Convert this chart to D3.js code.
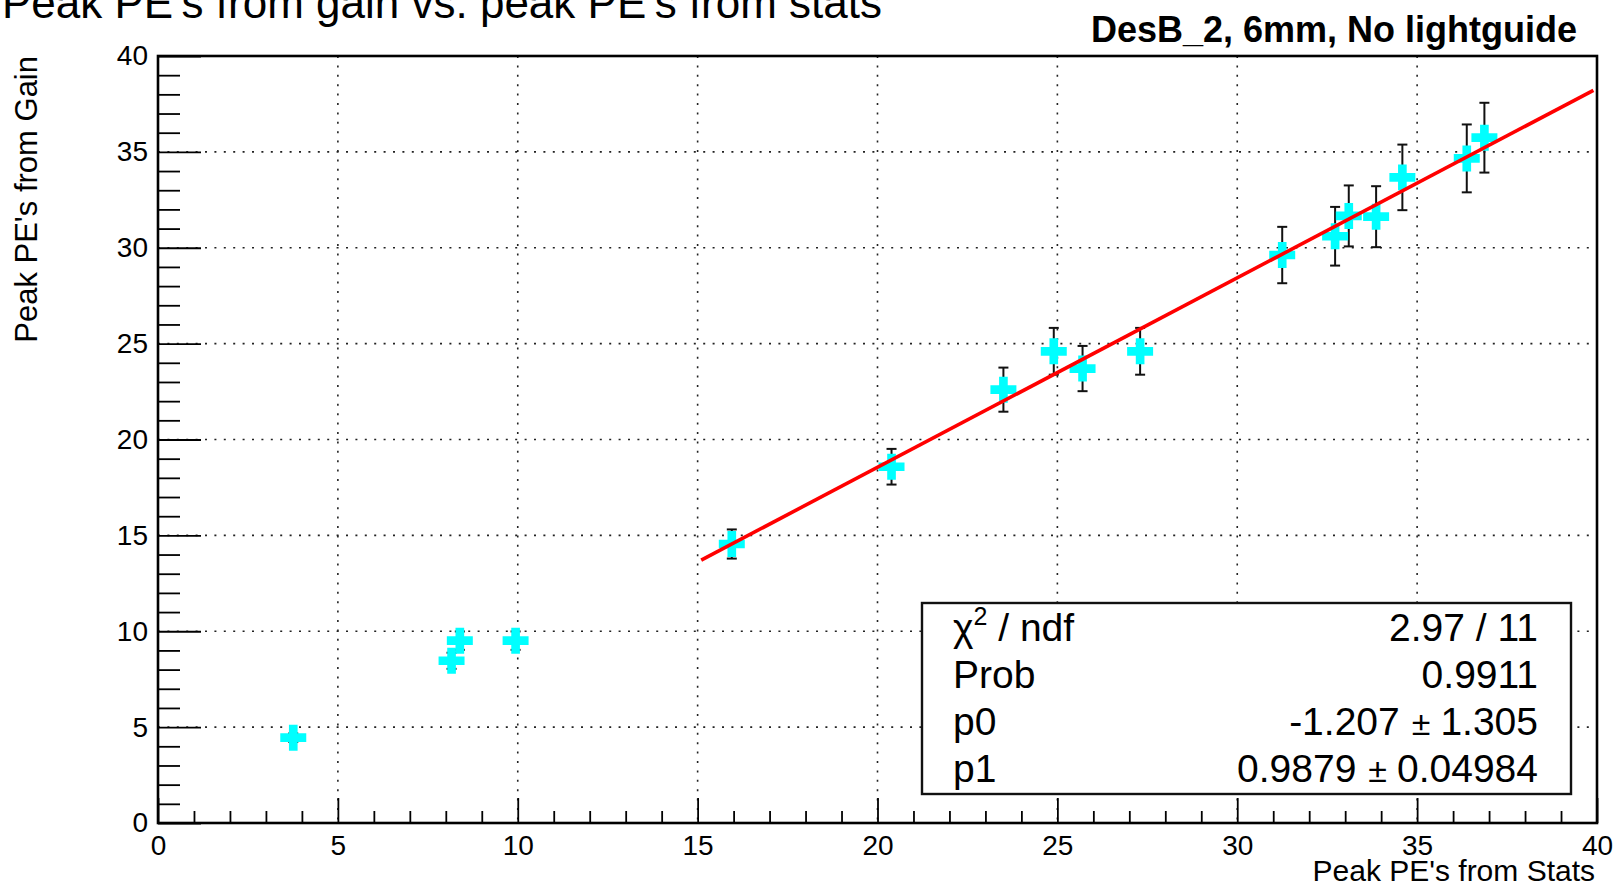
<!DOCTYPE html>
<html>
<head>
<meta charset="utf-8">
<script src="https://cdn.jsdelivr.net/npm/d3@7"></script>
<style>
  body { margin: 0; background: #fff; }
  svg { display: block; font-family: "Liberation Sans", Arial, Helvetica, sans-serif; }
</style>
</head>
<body>
<svg id="chart" width="1619" height="887"></svg>
<script>
// data
const xVals  = [3.76, 8.16, 8.39, 9.94, 15.95, 20.39, 23.5, 24.9, 25.7, 27.3, 31.25, 32.72, 33.1, 33.86, 34.59, 36.38, 36.87];
const yVals  = [4.45, 8.46, 9.51, 9.51, 14.55, 18.58, 22.6, 24.6, 23.7, 24.6, 29.62, 30.6, 31.66, 31.62, 33.67, 34.66, 35.74];
const yErrs  = [0.22, 0.42, 0.48, 0.48, 0.76, 0.93, 1.15, 1.22, 1.18, 1.22, 1.47, 1.53, 1.59, 1.59, 1.71, 1.77, 1.82];

// linear fit p0 + p1*x
const fitPars  = [-1.207, 0.9879];
const fitRange = [15.1, 39.9];

const statLabels = ["χ2 / ndf", "Prob", "p0", "p1"];
const statValues = ["2.97 / 11", "0.9911", "-1.207 ± 1.305", "0.9879 ± 0.04984"];

const majorTicks = [0, 5, 10, 15, 20, 25, 30, 35, 40];
const minorTicks = d3.range(0, 41).filter(d => d % 5 !== 0);

const svg = d3.select("#chart");
const m = { left: 158, right: 1597, top: 56, bottom: 823 };

const x = d3.scaleLinear().domain([0, 40]).range([m.left, m.right]);
const y = d3.scaleLinear().domain([0, 40]).range([m.bottom, m.top]);

// Title (partly off the top edge, as in the original)
svg.append("text")
  .attr("x", 2).attr("y", 18)
  .attr("font-size", 44)
  .attr("fill", "#000")
  .text("Peak PE's from gain vs. peak PE's from stats");

svg.append("text")
  .attr("x", 1577).attr("y", 42)
  .attr("text-anchor", "end")
  .attr("font-size", 36).attr("font-weight", "bold")
  .text("DesB_2, 6mm, No lightguide");

// dotted grid
const grid = majorTicks.filter(d => d > 0 && d < 40);
svg.append("g").selectAll("line").data(grid).join("line")
  .attr("x1", d => x(d)).attr("x2", d => x(d))
  .attr("y1", m.top).attr("y2", m.bottom)
  .attr("stroke", "#222").attr("stroke-width", 1.6)
  .attr("stroke-dasharray", "2,7.4");
svg.append("g").selectAll("line").data(grid).join("line")
  .attr("y1", d => y(d)).attr("y2", d => y(d))
  .attr("x1", m.left).attr("x2", m.right)
  .attr("stroke", "#222").attr("stroke-width", 1.6)
  .attr("stroke-dasharray", "2,7.4");

// axes (ROOT style inward ticks)
svg.append("g").attr("transform", `translate(0,${m.bottom})`)
  .call(d3.axisBottom(x).tickValues(majorTicks).tickSize(-25).tickPadding(12).tickFormat(d3.format("d")));
svg.append("g").attr("transform", `translate(0,${m.bottom})`)
  .call(d3.axisBottom(x).tickValues(minorTicks).tickSize(-12).tickFormat(""));

svg.append("g").attr("transform", `translate(${m.left},0)`)
  .call(d3.axisLeft(y).tickValues(majorTicks).tickSize(-43).tickPadding(10).tickFormat(d3.format("d")));
svg.append("g").attr("transform", `translate(${m.left},0)`)
  .call(d3.axisLeft(y).tickValues(minorTicks).tickSize(-22).tickFormat(""));

svg.selectAll(".domain").remove();
svg.selectAll(".tick line").attr("stroke", "#000").attr("stroke-width", 1.8);
svg.selectAll(".tick text")
  .attr("font-size", 28)
  .attr("font-family", "Liberation Sans, Arial, sans-serif")
  .attr("fill", "#000");

// frame
svg.append("rect")
  .attr("x", m.left).attr("y", m.top)
  .attr("width", m.right - m.left).attr("height", m.bottom - m.top)
  .attr("fill", "none").attr("stroke", "#000").attr("stroke-width", 2.6);

// axis titles
svg.append("text")
  .attr("x", m.right - 2).attr("y", 881)
  .attr("text-anchor", "end").attr("font-size", 30)
  .text("Peak PE's from Stats");
svg.append("text")
  .attr("transform", `translate(37,${m.top}) rotate(-90)`)
  .attr("text-anchor", "end").attr("font-size", 31)
  .text("Peak PE's from Gain");

const pts = xVals.map((v, i) => ({ x: v, y: yVals[i], e: yErrs[i] }));

// error bars
const eb = svg.append("g").attr("stroke", "#111").attr("stroke-width", 2);
eb.selectAll(".ev").data(pts).join("line")
  .attr("x1", d => x(d.x)).attr("x2", d => x(d.x))
  .attr("y1", d => y(d.y - d.e)).attr("y2", d => y(d.y + d.e));
eb.selectAll(".cu").data(pts).join("line")
  .attr("x1", d => x(d.x) - 5).attr("x2", d => x(d.x) + 5)
  .attr("y1", d => y(d.y + d.e)).attr("y2", d => y(d.y + d.e));
eb.selectAll(".cd").data(pts).join("line")
  .attr("x1", d => x(d.x) - 5).attr("x2", d => x(d.x) + 5)
  .attr("y1", d => y(d.y - d.e)).attr("y2", d => y(d.y - d.e));

// markers (full cross)
svg.append("g").selectAll("path").data(pts).join("path")
  .attr("d", d3.symbol(d3.symbolCross, 375))
  .attr("transform", d => `translate(${x(d.x)},${y(d.y)})`)
  .attr("fill", "#00ffff");

// fit line
const fitLine = d3.line().x(d => x(d)).y(d => y(fitPars[0] + fitPars[1] * d));
svg.append("path")
  .datum(fitRange)
  .attr("d", fitLine)
  .attr("fill", "none").attr("stroke", "#ff0000").attr("stroke-width", 3.6);

// stats box
const box = { x0: 922, y0: 603, x1: 1571, y1: 794 };
svg.append("rect")
  .attr("x", box.x0).attr("y", box.y0)
  .attr("width", box.x1 - box.x0).attr("height", box.y1 - box.y0)
  .attr("fill", "#fff").attr("stroke", "#111").attr("stroke-width", 2.4);

const rowY = i => 641 + i * 47;
statLabels.forEach((lab, i) => {
  const t = svg.append("text").attr("x", 953).attr("y", rowY(i)).attr("font-size", 39);
  if (lab.startsWith("χ2")) {
    t.append("tspan").text("χ");
    t.append("tspan").attr("font-size", 25).attr("dy", -16).text("2");
    t.append("tspan").attr("dy", 16).text(" / ndf");
  } else {
    t.text(lab);
  }
  const v = svg.append("text").attr("x", 1538).attr("y", rowY(i))
    .attr("text-anchor", "end").attr("font-size", 39);
  const parts = statValues[i].split(" ± ");
  if (parts.length === 2) {
    v.append("tspan").text(parts[0]);
    v.append("tspan").attr("dx", 12).attr("font-size", 34).text("±");
    v.append("tspan").attr("dx", 10).text(parts[1]);
  } else {
    v.text(statValues[i]);
  }
});
</script>
</body>
</html>
